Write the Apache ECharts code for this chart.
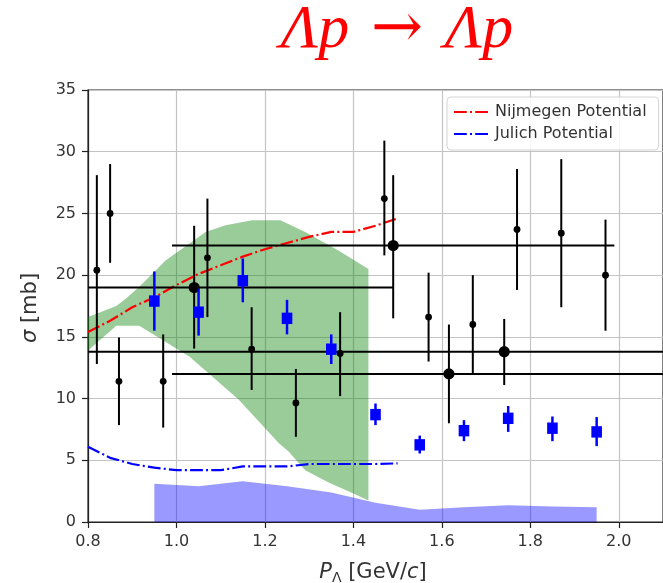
<!DOCTYPE html>
<html><head><meta charset="utf-8">
<script src="https://cdn.jsdelivr.net/npm/echarts@6/dist/echarts.min.js"></script>
<style>html,body{margin:0;padding:0;background:#fff}#c{width:663px;height:583px}</style>
</head><body><div id="c"></div>
<script>
// Small black points (vertical error only)
const smallX  = [0.82, 0.85, 0.87, 0.97, 1.07, 1.17, 1.27, 1.37, 1.47, 1.57, 1.67, 1.77, 1.87, 1.97];
const smallY  = [20.4, 25.0, 11.4, 11.4, 21.4, 14.0, 9.65, 13.65, 26.2, 16.6, 16.0, 23.7, 23.4, 20.0];
const smallLo = [12.8, 21.0, 7.85, 7.65, 16.6, 10.7, 6.9, 10.2, 21.6, 13.0, 12.0, 18.8, 17.4, 15.5];
const smallHi = [28.1, 29.0, 14.95, 15.2, 26.2, 17.4, 12.4, 17.0, 30.9, 20.2, 20.0, 28.6, 29.4, 24.5];
// Big black points (vertical and horizontal error)
const bigX   = [1.04, 1.49, 1.616, 1.741];
const bigY   = [19.0, 22.4, 12.0, 13.8];
const bigLo  = [14.05, 16.5, 8.0, 11.1];
const bigHi  = [24.0, 28.1, 16.0, 16.45];
const bigXLo = [0.8, 0.99, 0.99, 0.8];
const bigXHi = [1.49, 1.99, 2.1, 2.1];
// Blue squares
const blueX  = [0.95, 1.05, 1.15, 1.25, 1.35, 1.45, 1.55, 1.65, 1.75, 1.85, 1.95];
const blueY  = [17.9, 17.0, 19.55, 16.5, 14.0, 8.7, 6.25, 7.4, 8.4, 7.6, 7.3];
const blueLo = [15.5, 15.1, 17.8, 15.2, 12.8, 7.85, 5.55, 6.55, 7.3, 6.55, 6.15];
const blueHi = [20.3, 18.9, 21.35, 18.0, 15.2, 9.6, 7.0, 8.25, 9.4, 8.55, 8.5];
// Theory curves
const nijX = [0.8, 0.85, 0.9, 0.95, 1.0, 1.05, 1.1, 1.15, 1.2, 1.25, 1.3, 1.35, 1.4, 1.45, 1.5];
const nijY = [15.4, 16.3, 17.4, 18.2, 19.2, 20.1, 20.8, 21.5, 22.1, 22.6, 23.1, 23.5, 23.5, 24.0, 24.6];
const julX = [0.8, 0.85, 0.9, 0.95, 1.0, 1.05, 1.1, 1.15, 1.2, 1.25, 1.3, 1.35, 1.4, 1.45, 1.5];
const julY = [6.1, 5.2, 4.7, 4.4, 4.2, 4.2, 4.2, 4.5, 4.5, 4.5, 4.7, 4.7, 4.7, 4.7, 4.75];
// Green band
const greenUpX = [0.8, 0.864, 0.886, 0.916, 0.976, 1.066, 1.111, 1.171, 1.235, 1.291, 1.366, 1.434];
const greenUpY = [16.6, 17.5, 18.1, 19.05, 21.2, 23.5, 24.05, 24.45, 24.45, 23.5, 22.0, 20.5];
const greenLoX = [1.434, 1.40, 1.344, 1.291, 1.254, 1.231, 1.141, 1.029, 0.916, 0.864, 0.8];
const greenLoY = [1.75, 2.3, 3.2, 4.2, 5.7, 6.4, 9.9, 13.4, 15.9, 15.9, 13.9];
// Purple band
const purpleX = [0.95, 1.05, 1.15, 1.25, 1.35, 1.45, 1.55, 1.65, 1.75, 1.85, 1.95];
const purpleY = [3.1, 2.9, 3.3, 2.9, 2.4, 1.55, 1.0, 1.2, 1.35, 1.25, 1.2];
const legendNames = ['Nijmegen Potential', 'Julich Potential'];

const zip = (...a) => a[0].map((_, i) => a.map(arr => arr[i]));

const chart = echarts.init(document.getElementById('c'), null, {renderer: 'canvas'});
const FONT = 'DejaVu Sans';
const dashDot = [12.8, 3.2, 2, 3.2];

function smallRender(params, api) {
  const p = api.coord([api.value(0), api.value(1)]);
  const lo = api.coord([api.value(0), api.value(2)]);
  const hi = api.coord([api.value(0), api.value(3)]);
  return {type: 'group', children: [
    {type: 'line', shape: {x1: p[0], y1: lo[1], x2: p[0], y2: hi[1]}, style: {stroke: '#000', lineWidth: 2}},
    {type: 'circle', shape: {cx: p[0], cy: p[1], r: 3.4}, style: {fill: '#000'}}
  ]};
}
function bigRender(params, api) {
  const p = api.coord([api.value(0), api.value(1)]);
  const lo = api.coord([api.value(0), api.value(2)]);
  const hi = api.coord([api.value(0), api.value(3)]);
  const xl = api.coord([api.value(4), api.value(1)]);
  const xh = api.coord([api.value(5), api.value(1)]);
  return {type: 'group', children: [
    {type: 'line', shape: {x1: xl[0], y1: p[1], x2: xh[0], y2: p[1]}, style: {stroke: '#000', lineWidth: 2}},
    {type: 'line', shape: {x1: p[0], y1: lo[1], x2: p[0], y2: hi[1]}, style: {stroke: '#000', lineWidth: 2}},
    {type: 'circle', shape: {cx: p[0], cy: p[1], r: 5.6}, style: {fill: '#000'}}
  ]};
}
function blueRender(params, api) {
  const p = api.coord([api.value(0), api.value(1)]);
  const lo = api.coord([api.value(0), api.value(2)]);
  const hi = api.coord([api.value(0), api.value(3)]);
  return {type: 'group', children: [
    {type: 'line', shape: {x1: p[0], y1: lo[1], x2: p[0], y2: hi[1]}, style: {stroke: '#0000ff', lineWidth: 2.5}},
    {type: 'rect', shape: {x: p[0] - 5.3, y: p[1] - 5.7, width: 10.6, height: 11.4}, style: {fill: '#0000ff'}}
  ]};
}

const option = {
  animation: false,
  grid: {left: 88, top: 90, width: 578, height: 432, show: true, borderColor: '#222', borderWidth: 1.2, containLabel: false},
  xAxis: {
    type: 'value', min: 0.8, max: 2.1, interval: 0.2,
    axisLine: {show: true, onZero: false, lineStyle: {color: '#222', width: 1.2}},
    axisTick: {show: true, inside: false, length: 6, lineStyle: {color: '#222', width: 1.2}},
    axisLabel: {fontFamily: FONT, fontSize: 16, color: '#333', margin: 12, showMaxLabel: false,
      formatter: v => v.toFixed(1)},
    splitLine: {show: true, lineStyle: {color: '#c4c4c4', width: 1.2}}
  },
  yAxis: {
    type: 'value', min: 0, max: 35, interval: 5,
    axisLine: {show: true, lineStyle: {color: '#222', width: 1.2}},
    axisTick: {show: true, inside: false, length: 6, lineStyle: {color: '#222', width: 1.2}},
    axisLabel: {fontFamily: FONT, fontSize: 16, color: '#333', margin: 12},
    splitLine: {show: true, lineStyle: {color: '#c4c4c4', width: 1.2}}
  },
  legend: {
    left: 447, top: 97, orient: 'vertical', itemWidth: 36, itemHeight: 12, itemGap: 6,
    padding: [7, 12, 8, 6], borderColor: '#d4d4d4', borderWidth: 1, borderRadius: 4,
    backgroundColor: 'rgba(255,255,255,0.85)',
    itemStyle: {opacity: 0},
    textStyle: {fontFamily: FONT, fontSize: 16, color: '#333'},
    data: legendNames
  },
  graphic: [
    {type: 'text', x: 397, y: 31, z: 100, style: {
      text: '{a|Λp}{b| → }{a|Λp}', textAlign: 'center', textVerticalAlign: 'middle', verticalAlign: 'middle',
      rich: {
        a: {fontFamily: 'Liberation Serif', fontSize: 62, fontStyle: 'italic', fill: '#ff0000', color: '#ff0000'},
        b: {fontFamily: 'DejaVu Serif', fontSize: 62, fill: '#ff0000', color: '#ff0000', padding: [0, 2, 0, 2]}
      }}},
    {type: 'text', x: 373, y: 573, z: 100, style: {
      text: '{i|P}{s|Λ}{n| [GeV/}{i|c}{n|]}', textAlign: 'center', verticalAlign: 'middle', textVerticalAlign: 'middle',
      rich: {
        i: {fontFamily: FONT, fontSize: 21, fontStyle: 'italic', fill: '#333', color: '#333'},
        n: {fontFamily: FONT, fontSize: 21, fill: '#333', color: '#333'},
        s: {fontFamily: FONT, fontSize: 14, fill: '#333', color: '#333', padding: [10, 0, 0, 0]}
      }}},
    {type: 'text', x: 31, y: 308, rotation: Math.PI / 2, z: 100, style: {
      text: '{i|σ}{n| [mb]}', textAlign: 'center', verticalAlign: 'middle', textVerticalAlign: 'middle',
      rich: {
        i: {fontFamily: FONT, fontSize: 21, fontStyle: 'italic', fill: '#333', color: '#333'},
        n: {fontFamily: FONT, fontSize: 21, fill: '#333', color: '#333'}
      }}}
  ],
  series: [
    {type: 'custom', name: 'green band', silent: true, z: 1, data: [[1.0, 10]],
      renderItem: (params, api) => {
        const pts = [];
        greenUpX.forEach((x, i) => pts.push(api.coord([x, greenUpY[i]])));
        greenLoX.forEach((x, i) => pts.push(api.coord([x, greenLoY[i]])));
        return {type: 'polygon', shape: {points: pts}, style: {fill: 'rgba(0,128,0,0.4)'}};
      }},
    {type: 'custom', name: 'purple band', silent: true, z: 1, data: [[1.0, 1]],
      renderItem: (params, api) => {
        const pts = [];
        purpleX.forEach((x, i) => pts.push(api.coord([x, purpleY[i]])));
        pts.push(api.coord([purpleX[purpleX.length - 1], 0]));
        pts.push(api.coord([purpleX[0], 0]));
        return {type: 'polygon', shape: {points: pts}, style: {fill: 'rgba(0,0,255,0.4)'}};
      }},
    {type: 'line', name: legendNames[0], z: 3, data: zip(nijX, nijY), symbol: 'none', color: '#ff0000',
      lineStyle: {color: '#ff0000', width: 2.2, type: dashDot}},
    {type: 'line', name: legendNames[1], z: 3, data: zip(julX, julY), symbol: 'none', color: '#0000ff',
      lineStyle: {color: '#0000ff', width: 2.2, type: dashDot}},
    {type: 'custom', name: 'small', z: 4, data: zip(smallX, smallY, smallLo, smallHi), renderItem: smallRender, encode: {x: 0, y: 1}},
    {type: 'custom', name: 'big', z: 4, data: zip(bigX, bigY, bigLo, bigHi, bigXLo, bigXHi), renderItem: bigRender, encode: {x: 0, y: 1}},
    {type: 'custom', name: 'blue', z: 5, data: zip(blueX, blueY, blueLo, blueHi), renderItem: blueRender, encode: {x: 0, y: 1}}
  ]
};
chart.setOption(option);
</script></body></html>
